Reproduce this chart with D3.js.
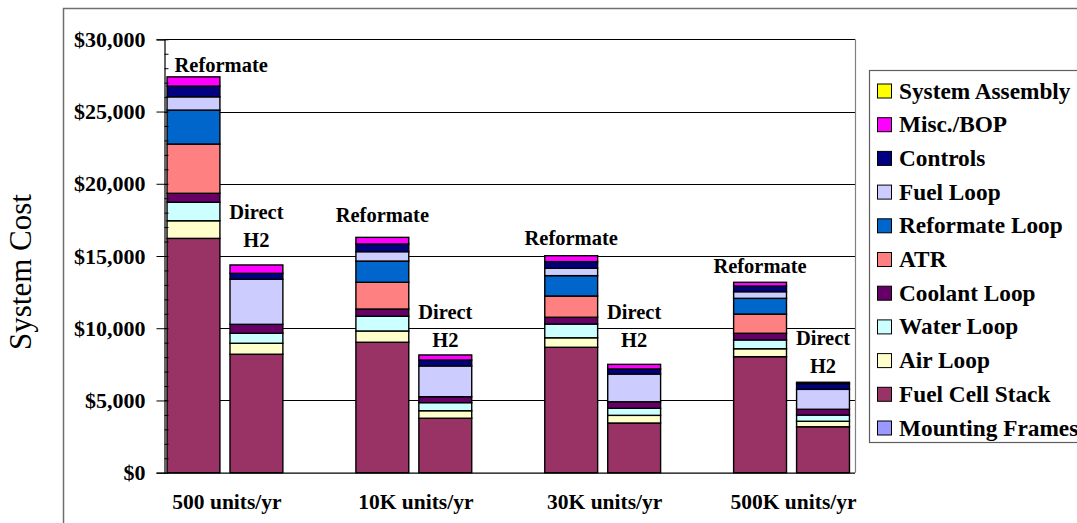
<!DOCTYPE html>
<html>
<head>
<meta charset="utf-8">
<script src="https://cdn.jsdelivr.net/npm/d3@7"></script>
<style>
  html, body { margin: 0; padding: 0; background: #fff; }
  svg { display: block; }
</style>
</head>
<body>
<svg id="chart" width="1077" height="523"></svg>
<script>
// Production volumes and the two fuel-processing configurations per volume
const groups = ["500 units/yr", "10K units/yr", "30K units/yr", "500K units/yr"];
const configs = ["Reformate", "Direct H2"];

// Cost components, stacked bottom to top
const components = ["Mounting Frames", "Fuel Cell Stack", "Air Loop", "Water Loop", "Coolant Loop",
  "ATR", "Reformate Loop", "Fuel Loop", "Controls", "Misc./BOP", "System Assembly"];

// Component cost in $ per system, ordered: 500 Ref, 500 H2, 10K Ref, 10K H2, 30K Ref, 30K H2, 500K Ref, 500K H2
const mountingFrames = [0, 0, 0, 0, 0, 0, 0, 0];
const fuelCellStack  = [16220, 8200, 9030, 3770, 8680, 3440, 8030, 3180];
const airLoop        = [1220, 760, 780, 520, 660, 530, 550, 380];
const waterLoop      = [1280, 690, 1020, 560, 950, 490, 610, 430];
const coolantLoop    = [620, 620, 500, 410, 470, 450, 460, 400];
const atr            = [3410, 0, 1850, 0, 1470, 0, 1330, 0];
const reformateLoop  = [2350, 0, 1470, 0, 1410, 0, 1090, 0];
const fuelLoop       = [920, 3120, 650, 2130, 510, 1920, 460, 1380];
const controls       = [740, 410, 530, 410, 460, 350, 390, 390];
const miscBop        = [640, 580, 460, 350, 410, 320, 260, 100];
const systemAssembly = [0, 0, 0, 0, 0, 0, 0, 0];

const seriesValues = [mountingFrames, fuelCellStack, airLoop, waterLoop, coolantLoop,
  atr, reformateLoop, fuelLoop, controls, miscBop, systemAssembly];

const colors = ["#9999FF", "#993366", "#FFFFCC", "#CCFFFF", "#660066",
  "#FF8080", "#0066CC", "#CCCCFF", "#000080", "#FF00FF", "#FFFF00"];

const yTicks = [0, 5000, 10000, 15000, 20000, 25000, 30000];

// ---- layout ----
const W = 1077, H = 523;
const serif = "'Liberation Serif', 'Times New Roman', serif";
const svg = d3.select("#chart");

svg.append("rect")
  .attr("x", 63.5).attr("y", 8.5).attr("width", W).attr("height", H)
  .attr("fill", "#fff").attr("stroke", "#6f6f6f").attr("stroke-width", 1.5);

const plot = { left: 164.5, right: 855, top: 39.3, bottom: 472.7 };
const y = d3.scaleLinear().domain([0, 30000]).range([plot.bottom, plot.top]);

// one slot per bar, with an empty slot between volume groups
const slots = [];
groups.forEach((g, gi) => {
  configs.forEach(c => slots.push(g + "|" + c));
  if (gi < groups.length - 1) slots.push("spacer" + gi);
});
const x = d3.scaleBand().domain(slots).range([162, 854.5]).paddingInner(0.16).paddingOuter(0.08);

const rows = [];
groups.forEach((g, gi) => configs.forEach((c, ci) => {
  const i = gi * configs.length + ci;
  const row = { key: g + "|" + c, group: g, config: c, gi: gi };
  components.forEach((name, k) => { row[name] = seriesValues[k][i]; });
  row.total = d3.sum(components, n => row[n]);
  rows.push(row);
}));
const stacked = d3.stack().keys(components)(rows);

// gridlines
svg.append("g").selectAll("line").data(yTicks.filter(d => d > 0)).join("line")
  .attr("x1", plot.left).attr("x2", plot.right)
  .attr("y1", d => Math.round(y(d)) + 0.5).attr("y2", d => Math.round(y(d)) + 0.5)
  .attr("stroke", "#000").attr("stroke-width", 1.1);

// plot area right edge
svg.append("line")
  .attr("x1", plot.right + 0.5).attr("x2", plot.right + 0.5)
  .attr("y1", plot.top).attr("y2", plot.bottom)
  .attr("stroke", "#808080").attr("stroke-width", 1.2);

// stacked bars
svg.append("g").selectAll("g").data(stacked).join("g")
  .attr("fill", (d, i) => colors[i])
  .selectAll("rect").data(d => d.filter(s => s[1] - s[0] > 0)).join("rect")
  .attr("x", d => x(d.data.key))
  .attr("width", x.bandwidth())
  .attr("y", d => y(d[1]))
  .attr("height", d => y(d[0]) - y(d[1]))
  .attr("stroke", "#000").attr("stroke-width", 1.4);

// y axis: major ticks outward with labels, minor ticks inward
const yAxis = svg.append("g").attr("transform", `translate(${plot.left},0)`)
  .call(d3.axisLeft(y).tickValues(yTicks).tickSize(8).tickPadding(11)
    .tickFormat(d => "$" + d3.format(",")(d)));
yAxis.select(".domain").attr("stroke", "#000").attr("stroke-width", 1.2);
yAxis.selectAll(".tick line").attr("stroke", "#000");
yAxis.selectAll(".tick text")
  .attr("font-family", serif).attr("font-weight", "bold").attr("font-size", 22).attr("fill", "#000");

svg.append("g").attr("transform", `translate(${plot.left},0)`)
  .call(d3.axisLeft(y).tickValues(d3.range(0, 30001, 1000)).tickSize(-4).tickFormat(""))
  .call(g => g.select(".domain").remove())
  .selectAll(".tick line").attr("stroke", "#000");

// x axis line
svg.append("line")
  .attr("x1", plot.left).attr("x2", plot.right)
  .attr("y1", plot.bottom + 0.5).attr("y2", plot.bottom + 0.5)
  .attr("stroke", "#000").attr("stroke-width", 1.2);

// category labels
groups.forEach(g => {
  const a = x(g + "|" + configs[0]);
  const b = x(g + "|" + configs[configs.length - 1]) + x.bandwidth();
  svg.append("text")
    .attr("x", (a + b) / 2 + 2).attr("y", 509)
    .attr("text-anchor", "middle")
    .attr("font-family", serif).attr("font-weight", "bold").attr("font-size", 21.5)
    .text(g);
});

// configuration labels above each bar
const labelGap = { "Reformate": [5, 15, 11, 9], "Direct H2": [18, 8, 17, 9] };
rows.forEach(r => {
  const cx = x(r.key) + x.bandwidth() / 2;
  const base = y(r.total) - labelGap[r.config][r.gi];
  const lines = r.config.split(" ");
  const lh = 28;
  lines.forEach((ln, li) => {
    const t = svg.append("text")
      .attr("text-anchor", "middle")
      .attr("font-family", serif).attr("font-weight", "bold").attr("font-size", 20.5)
      .text(ln);
    const w = t.node().getComputedTextLength();
    t.attr("x", Math.max(cx, plot.left + 10 + w / 2))
     .attr("y", base - (lines.length - 1 - li) * lh);
  });
});

// axis title
svg.append("text")
  .attr("transform", "translate(31,272) rotate(-90)")
  .attr("text-anchor", "middle")
  .attr("font-family", serif).attr("font-size", 31)
  .text("System Cost");

// legend
const legend = svg.append("g");
legend.append("rect")
  .attr("x", 869.5).attr("y", 70.5).attr("width", 300).attr("height", 372)
  .attr("fill", "#fff").attr("stroke", "#5f5f5f").attr("stroke-width", 1.2);
const legendOrder = components.map((n, i) => ({ name: n, color: colors[i] })).reverse();
legendOrder.forEach((d, i) => {
  const cy = 91 + i * 33.7;
  legend.append("rect")
    .attr("x", 877.5).attr("y", cy - 7).attr("width", 14).attr("height", 14)
    .attr("fill", d.color).attr("stroke", "#000").attr("stroke-width", 1);
  legend.append("text")
    .attr("x", 899).attr("y", cy + 7.5)
    .attr("font-family", serif).attr("font-weight", "bold").attr("font-size", 23.3)
    .text(d.name);
});
</script>
</body>
</html>
